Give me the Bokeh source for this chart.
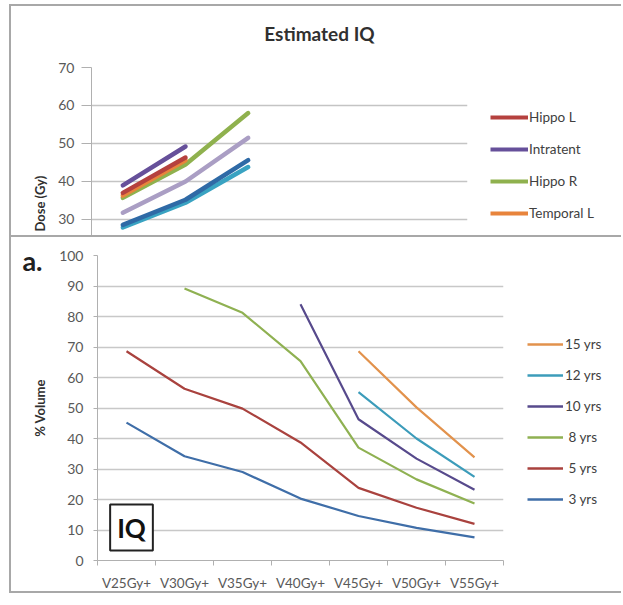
import numpy as np
from bokeh.plotting import figure
from bokeh.layouts import column, row
from bokeh.models import (Range1d, FixedTicker, Legend, LegendItem, Label, Title,
                          LinearAxis)
from bokeh.embed import file_html
from bokeh.resources import INLINE

FONT = "Lato"
TXT = "#404040"
BORDER = "2px solid #a8a8a8"

# ---------------- top chart data (Estimated IQ, Dose (Gy)) ----------------
top_categories = 6
hippo_l = [37.0, 46.3]
intratent = [39.0, 49.2]
hippo_r = [35.7, 44.5, 58.0]
temporal_l = [36.3, 45.6]
series_e = [31.8, 40.0, 51.5]
series_f = [28.6, 35.2, 45.6]
series_g = [27.9, 34.4, 43.8]
top_ticks = [30, 40, 50, 60, 70]
top_title = "Estimated IQ"

# ---------------- bottom chart data (% Volume) ----------------
categories = ["V25Gy+", "V30Gy+", "V35Gy+", "V40Gy+", "V45Gy+", "V50Gy+", "V55Gy+"]
yrs3 = [45.2, 34.2, 29.0, 20.3, 14.6, 10.7, 7.6]
yrs5 = [68.6, 56.3, 49.8, 38.7, 23.8, 17.3, 12.0]
yrs8 = [None, 89.2, 81.2, 65.4, 37.0, 26.6, 18.7]
yrs10 = [None, None, None, 84.0, 46.3, 33.4, 23.2]
yrs12 = [None, None, None, None, 55.2, 40.0, 27.4]
yrs15 = [None, None, None, None, 68.6, 50.2, 33.8]
bottom_ticks = [0, 10, 20, 30, 40, 50, 60, 70, 80, 90, 100]


def arr(v):
    return np.array([np.nan if a is None else a for a in v], dtype=float)


def legend_fig(width, height, styles):
    # a blank panel that only hosts a legend; its range is kept away from the data
    f = figure(width=width, height=height, x_range=Range1d(0, 1),
               y_range=Range1d(1000, 1001), title=None,
               x_axis_location=None, y_axis_location=None, output_backend="svg",
               toolbar_location=None, min_border=0, outline_line_color=None,
               background_fill_color="white", border_fill_color="white", styles=styles)
    f.xgrid.visible = False
    f.ygrid.visible = False
    return f


# =========================== TOP FIGURE ===========================
# canvas origin at page (11, 6)
top = figure(width=469, height=231, x_range=Range1d(0, top_categories),
             y_range=Range1d(25.26, 70), x_axis_location=None, title=None,
             output_backend="svg", toolbar_location=None,
             min_border_left=80, min_border_right=13, min_border_top=61,
             min_border_bottom=0, background_fill_color="white",
             border_fill_color="white", outline_line_color=None,
             styles={"border-top": BORDER, "border-left": BORDER,
                     "margin-left": "9px", "margin-top": "4px"})
top.xgrid.visible = False
top.ygrid.grid_line_color = "#c4c4c4"
top.ygrid.grid_line_width = 1.3
top.yaxis.ticker = FixedTicker(ticks=top_ticks, minor_ticks=[])
top.yaxis.axis_line_color = "#b0b0b0"
top.yaxis.major_tick_line_color = "#b0b0b0"
top.yaxis.major_tick_out = 10
top.yaxis.major_tick_in = 0
top.yaxis.major_label_text_font = FONT
top.yaxis.major_label_text_font_size = "14px"
top.yaxis.major_label_text_color = "#595959"
top.yaxis.major_label_standoff = 7

# chart title carried by a one-tick axis above the frame (page x ~319)
title_x = (319 - 91) / (376 / top_categories)
title_axis = LinearAxis(ticker=FixedTicker(ticks=[title_x], minor_ticks=[]),
                        major_label_overrides={title_x: top_title},
                        axis_line_color=None, major_tick_line_color=None,
                        major_tick_out=0, major_tick_in=0, major_label_standoff=23,
                        major_label_text_font=FONT, major_label_text_font_style="bold",
                        major_label_text_font_size="19px",
                        major_label_text_color="#303030")
top.add_layout(title_axis, "above")

top.add_layout(Title(text="Dose (Gy)", align="left", offset=6, standoff=16,
                     text_font=FONT, text_font_style="bold", text_font_size="13px",
                     text_color="#303030"), "left")

tx = np.arange(3) + 0.5
top_series = [
    ("Series G", series_g, "#3aa3c2"),
    ("Series F", series_f, "#2f6aa6"),
    ("Series E", series_e, "#aa9ec4"),
    ("Hippo R", hippo_r, "#8fb14e"),
    ("Temporal L", temporal_l, "#e8843c"),
    ("Hippo L", hippo_l, "#b5413e"),
    ("Intratent", intratent, "#66509a"),
]
for name, vals, col in top_series:
    top.line(tx[:len(vals)], vals, line_color=col, line_width=4.5, line_cap="round")

# legend panel for the top chart (canvas origin at page (480, 6))
top_leg = legend_fig(143, 231, {"border-top": BORDER, "margin-top": "4px"})
top_r = {}
for name, vals, col in top_series:
    top_r[name] = top_leg.line(tx[:len(vals)], vals, line_color=col, line_width=4)
top_items = [LegendItem(label=n, renderers=[top_r[n]])
             for n in ["Hippo L", "Intratent", "Hippo R", "Temporal L"]]
top_leg.add_layout(Legend(items=top_items, location=(12, 14), orientation="vertical",
                          glyph_width=38, glyph_height=20, label_height=20, spacing=12,
                          label_standoff=1, padding=0, margin=0,
                          border_line_color=None, background_fill_alpha=0,
                          label_text_font=FONT, label_text_font_size="13.5px",
                          label_text_color=TXT), "center")

# =========================== BOTTOM FIGURE ===========================
# canvas origin at page (11, 239)
bot = figure(width=509, height=358, x_range=Range1d(0, len(categories)),
             y_range=Range1d(0, 100), title=None, output_backend="svg",
             toolbar_location=None,
             min_border_left=86, min_border_right=17, min_border_top=18,
             min_border_bottom=35, background_fill_color="white",
             border_fill_color="white", outline_line_color=None,
             styles={"border-top": BORDER, "border-left": BORDER,
                     "border-bottom": BORDER, "margin-left": "9px"})
bot.xgrid.visible = False
bot.ygrid.grid_line_color = "#c8c8c8"
bot.ygrid.grid_line_width = 1.5
bot.yaxis.ticker = FixedTicker(ticks=bottom_ticks, minor_ticks=[])
bot.yaxis.axis_line_color = "#b0b0b0"
bot.yaxis.major_tick_line_color = "#b0b0b0"
bot.yaxis.major_tick_out = 4
bot.yaxis.major_tick_in = 0
bot.yaxis.major_label_text_font = FONT
bot.yaxis.major_label_text_font_size = "14px"
bot.yaxis.major_label_text_color = "#595959"
bot.yaxis.major_label_standoff = 10
bot.yaxis.axis_label = "% Volume"
bot.yaxis.axis_label_standoff = 8
bot.yaxis.axis_label_text_font = FONT
bot.yaxis.axis_label_text_font_style = "bold"
bot.yaxis.axis_label_text_font_size = "13px"
bot.yaxis.axis_label_text_color = "#303030"

# panel tag "a." as the label of a one-tick axis on the left
tag_y = 98.2
tag_axis = LinearAxis(ticker=FixedTicker(ticks=[tag_y], minor_ticks=[]),
                      major_label_overrides={tag_y: "a."},
                      axis_line_color=None, major_tick_line_color=None,
                      major_tick_out=0, major_tick_in=0, major_label_standoff=-13,
                      major_label_text_font=FONT, major_label_text_font_style="bold",
                      major_label_text_font_size="27px", major_label_text_color="#202020")
bot.add_layout(tag_axis, "left")

centers = [i + 0.5 for i in range(len(categories))]
bot.xaxis.ticker = FixedTicker(ticks=centers, minor_ticks=list(range(len(categories) + 1)))
bot.xaxis.major_label_overrides = {c: lab for c, lab in zip(centers, categories)}
bot.xaxis.major_tick_out = 0
bot.xaxis.major_tick_in = 0
bot.xaxis.minor_tick_out = 5
bot.xaxis.minor_tick_in = 0
bot.xaxis.minor_tick_line_color = "#b0b0b0"
bot.xaxis.axis_line_color = "#b0b0b0"
bot.xaxis.major_label_text_font = FONT
bot.xaxis.major_label_text_font_size = "13.5px"
bot.xaxis.major_label_text_color = "#595959"
bot.xaxis.major_label_standoff = 9

bx = np.array(centers)
bottom_series = [
    ("15 yrs", yrs15, "#e2924c"),
    ("12 yrs", yrs12, "#3c9cba"),
    ("10 yrs", yrs10, "#574a8c"),
    (" 8 yrs", yrs8, "#8fb152"),
    (" 5 yrs", yrs5, "#a9423e"),
    (" 3 yrs", yrs3, "#3f6ea8"),
]
for name, vals, col in bottom_series:
    bot.line(bx, arr(vals), line_color=col, line_width=2.2)


def bdx(px):
    return (px - 97) / 58.0


def bdy(py):
    return (562 - py) / 3.05


bot.add_layout(Label(x=bdx(131), y=bdy(529), text="IQ", text_align="center",
                     text_baseline="middle", text_font=FONT, text_font_style="bold",
                     text_font_size="26px", text_color="#111111",
                     border_line_color="#222222", border_line_width=2,
                     background_fill_color="white", padding=7))

# legend panel for the bottom chart (canvas origin at page (520, 239))
bot_leg = legend_fig(103, 358, {"border-top": BORDER, "border-bottom": BORDER})
bot_items = []
for name, vals, col in bottom_series:
    r = bot_leg.line(bx, arr(vals), line_color=col, line_width=2.4)
    bot_items.append(LegendItem(label=name, renderers=[r]))
bot_leg.add_layout(Legend(items=bot_items, location=(9, 51), orientation="vertical",
                          glyph_width=36, glyph_height=20, label_height=20, spacing=11,
                          label_standoff=2, padding=0, margin=0,
                          border_line_color=None, background_fill_alpha=0,
                          label_text_font=FONT, label_text_font_size="13.5px",
                          label_text_color=TXT), "center")

layout = column(row(top, top_leg, spacing=0), row(bot, bot_leg, spacing=0), spacing=0)
open("out.html", "w").write(file_html(layout, INLINE))
